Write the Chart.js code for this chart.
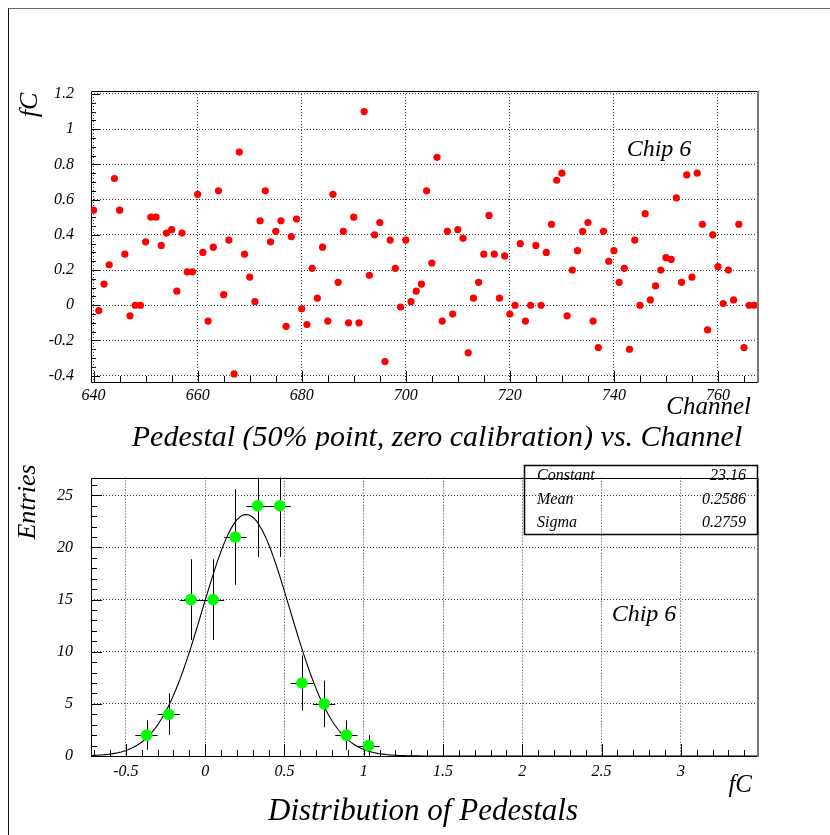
<!DOCTYPE html>
<html>
<head>
<meta charset="utf-8">
<title>Pedestals - Chip 6</title>
<script src="https://cdn.jsdelivr.net/npm/chart.js@4.4.1/dist/chart.umd.min.js"></script>
<style>
  html, body { margin: 0; padding: 0; background: #fff; }
  #page { position: relative; width: 830px; height: 835px; overflow: hidden; }
  #frame { position: absolute; left: 8px; top: 8px; width: 840px; height: 840px;
           border-left: 1px solid #111; border-top: 1px solid #6a6a6a; }
  canvas { position: absolute; left: 0; }
  #top { top: 0; }
  #bottom { top: 450px; }
</style>
</head>
<body>
<div id="page">
  <div id="frame"></div>
  <canvas id="top" width="830" height="450"></canvas>
  <canvas id="bottom" width="830" height="385"></canvas>
</div>
<script>
// ---- pedestal per channel (fC), channels 640 .. 767 ----
const firstChannel = 640;
const pedestals = [
  0.54, -0.03, 0.12, 0.23, 0.72, 0.54, 0.29, -0.06, 0.00, 0.00,
  0.36, 0.50, 0.50, 0.34, 0.41, 0.43, 0.08, 0.41, 0.19, 0.19,
  0.63, 0.30, -0.09, 0.33, 0.65, 0.06, 0.37, -0.39, 0.87, 0.29,
  0.16, 0.02, 0.48, 0.65, 0.36, 0.42, 0.48, -0.12, 0.39, 0.49,
  -0.02, -0.11, 0.21, 0.04, 0.33, -0.09, 0.63, 0.13, 0.42, -0.10,
  0.50, -0.10, 1.10, 0.17, 0.40, 0.47, -0.32, 0.37, 0.21, -0.01,
  0.37, 0.02, 0.08, 0.12, 0.65, 0.24, 0.84, -0.09, 0.42, -0.05,
  0.43, 0.38, -0.27, 0.04, 0.13, 0.29, 0.51, 0.29, 0.04, 0.28,
  -0.05, 0.00, 0.35, -0.09, 0.00, 0.34, 0.00, 0.30, 0.46, 0.71,
  0.75, -0.06, 0.20, 0.31, 0.42, 0.47, -0.09, -0.24, 0.42, 0.25,
  0.31, 0.13, 0.21, -0.25, 0.37, 0.00, 0.52, 0.03, 0.11, 0.20,
  0.27, 0.26, 0.61, 0.13, 0.74, 0.16, 0.75, 0.46, -0.14, 0.40,
  0.22, 0.01, 0.20, 0.03, 0.46, -0.24, 0.00, 0.00
];
const channels = pedestals.map((_, i) => firstChannel + i);
const channelTicks = [640, 660, 680, 700, 720, 740, 760];
const pedestalTicks = [-0.4, -0.2, 0, 0.2, 0.4, 0.6, 0.8, 1, 1.2];

// ---- histogram of pedestals ----
const binCenters = [-0.37, -0.23, -0.09, 0.05, 0.19, 0.33, 0.47, 0.61, 0.75, 0.89, 1.03];
const binCounts  = [2, 4, 15, 15, 21, 24, 24, 7, 5, 2, 1];
const binErrors  = [1.41, 2.00, 3.87, 3.87, 4.58, 4.90, 4.90, 2.65, 2.24, 1.41, 1.00];
const binHalfWidth = 0.07;
const fcTicks = [-0.5, 0, 0.5, 1, 1.5, 2, 2.5, 3];
const entryTicks = [0, 5, 10, 15, 20, 25];

// ---- gaussian fit result ----
const fitConstant = 23.16;
const fitMean = 0.2586;
const fitSigma = 0.2759;

const serif = "'Liberation Serif', 'Times New Roman', serif";
const tickFont = { family: serif, size: 16, style: 'italic' };

const fixedTicks = values => scale => { scale.ticks = values.map(v => ({ value: v })); };
const fmtNum = v => String(Math.round(v * 10) / 10);

const gridOpts = { color: '#3c3c3c', lineWidth: 1, drawTicks: false };
const borderOpts = { display: false, dash: [1, 2] };

// Frame plus inward major/minor tick marks on the bottom and left axes
function makeFrame(cfg) {
  return {
    id: 'frameTicks',
    beforeDatasetsDraw(chart) {
      const { ctx, chartArea: a, scales: { x, y } } = chart;
      const isMajor = (v, step) => Math.abs(v / step - Math.round(v / step)) < 1e-6;
      ctx.save();
      ctx.strokeStyle = '#000';
      ctx.lineWidth = 1;
      ctx.beginPath();
      for (let i = 0; ; i++) {
        const v = cfg.xFrom + i * cfg.xMinor;
        if (v > cfg.xTo + 1e-9) break;
        const px = Math.round(x.getPixelForValue(v)) + 0.5;
        const len = isMajor(v, cfg.xMajor) ? cfg.xMajorLen : cfg.xMinorLen;
        ctx.moveTo(px, a.bottom);
        ctx.lineTo(px, a.bottom - len);
      }
      for (let i = 0; ; i++) {
        const v = cfg.yFrom + i * cfg.yMinor;
        if (v > cfg.yTo + 1e-9) break;
        const py = Math.round(y.getPixelForValue(v)) + 0.5;
        const len = isMajor(v, cfg.yMajor) ? cfg.yMajorLen : cfg.yMinorLen;
        ctx.moveTo(a.left, py);
        ctx.lineTo(a.left + len, py);
      }
      ctx.stroke();
      // frame
      ctx.beginPath();
      ctx.moveTo(Math.round(a.right) + 0.5, Math.round(a.top) + 0.5);
      ctx.lineTo(Math.round(a.left) + 0.5, Math.round(a.top) + 0.5);
      ctx.lineTo(Math.round(a.left) + 0.5, Math.round(a.bottom) + 0.5);
      ctx.lineTo(Math.round(a.right) + 0.5, Math.round(a.bottom) + 0.5);
      ctx.stroke();
      ctx.strokeStyle = '#7a7a7a';
      ctx.lineWidth = 2;
      ctx.beginPath();
      ctx.moveTo(Math.round(a.right) + 1, Math.round(a.top));
      ctx.lineTo(Math.round(a.right) + 1, Math.round(a.bottom) + 1);
      ctx.stroke();
      ctx.restore();
    }
  };
}

// Free text: titles, axis titles and annotations
function makeText(items, extra) {
  return {
    id: 'textLayer',
    afterDraw(chart) {
      const ctx = chart.ctx;
      if (extra) extra(ctx, chart);
      for (const t of items) {
        ctx.save();
        ctx.font = `italic ${t.size}px ${serif}`;
        ctx.fillStyle = '#000';
        ctx.textAlign = t.align || 'center';
        ctx.textBaseline = 'middle';
        ctx.translate(t.x, t.y);
        if (t.rotate) ctx.rotate(t.rotate);
        ctx.fillText(t.text, 0, 0);
        ctx.restore();
      }
    }
  };
}

// Poisson error bars and bin-width bars for the histogram points
const errorBars = {
  id: 'errorBars',
  beforeDatasetsDraw(chart) {
    const { ctx, chartArea: a, scales: { x, y } } = chart;
    ctx.save();
    ctx.beginPath();
    ctx.rect(a.left, a.top, a.right - a.left, a.bottom - a.top);
    ctx.clip();
    ctx.strokeStyle = '#000';
    ctx.lineWidth = 1;
    ctx.beginPath();
    binCenters.forEach((c, i) => {
      const px = Math.round(x.getPixelForValue(c)) + 0.5;
      const py = Math.round(y.getPixelForValue(binCounts[i])) + 0.5;
      ctx.moveTo(px, y.getPixelForValue(binCounts[i] - binErrors[i]));
      ctx.lineTo(px, y.getPixelForValue(binCounts[i] + binErrors[i]));
      ctx.moveTo(x.getPixelForValue(c - binHalfWidth), py);
      ctx.lineTo(x.getPixelForValue(c + binHalfWidth), py);
    });
    ctx.stroke();
    ctx.restore();
  }
};

// ---------------- pedestal vs channel ----------------
new Chart(document.getElementById('top'), {
  type: 'scatter',
  data: {
    datasets: [{
      data: channels.map((c, i) => ({ x: c, y: pedestals[i] })),
      backgroundColor: '#ff0000',
      borderWidth: 0,
      pointRadius: 3.6,
      pointHoverRadius: 3.6
    }]
  },
  options: {
    responsive: false,
    animation: false,
    events: [],
    layout: { padding: { left: 31, top: 91, right: 73, bottom: 48 } },
    plugins: { legend: { display: false }, tooltip: { enabled: false } },
    scales: {
      x: {
        type: 'linear', position: 'bottom', min: 639.5, max: 767.5,
        afterBuildTicks: fixedTicks(channelTicks),
        afterFit: s => { s.height = 20; },
        grid: gridOpts, border: borderOpts,
        ticks: { font: tickFont, color: '#000', padding: 4, maxRotation: 0, autoSkip: false, callback: v => String(v) }
      },
      y: {
        type: 'linear', position: 'left', min: -0.436, max: 1.217,
        afterBuildTicks: fixedTicks(pedestalTicks),
        afterFit: s => { s.width = 60; },
        grid: gridOpts, border: borderOpts,
        ticks: { font: tickFont, color: '#000', padding: 17, autoSkip: false, callback: fmtNum }
      }
    }
  },
  plugins: [
    makeFrame({ xFrom: 640, xTo: 765, xMinor: 5, xMajor: 20, xMajorLen: 11, xMinorLen: 6,
                yFrom: -0.4, yTo: 1.2, yMinor: 0.05, yMajor: 0.2, yMajorLen: 9, yMinorLen: 5 }),
    makeText([
      { text: 'fC', x: 30, y: 105, size: 26, rotate: -Math.PI / 2 },
      { text: 'Chip 6', x: 659, y: 150, size: 24 },
      { text: 'Channel', x: 751, y: 407, size: 25, align: 'right' },
      { text: 'Pedestal (50% point, zero calibration) vs. Channel', x: 437, y: 438, size: 30 }
    ])
  ]
});

// ---------------- distribution of pedestals ----------------
const fitCurve = [];
for (let i = 0; i <= 420; i++) {
  const v = -0.72 + i * 0.01;
  fitCurve.push({ x: v, y: fitConstant * Math.exp(-0.5 * Math.pow((v - fitMean) / fitSigma, 2)) });
}

function drawStats(ctx) {
  const box = { left: 524, top: 15, right: 757, bottom: 84 };
  ctx.save();
  ctx.strokeStyle = '#000';
  ctx.lineWidth = 1.5;
  ctx.strokeRect(box.left + 0.5, box.top + 0.5, box.right - box.left, box.bottom - box.top);
  ctx.font = `italic 16px ${serif}`;
  ctx.fillStyle = '#000';
  ctx.textBaseline = 'middle';
  const rows = [['Constant', '23.16'], ['Mean', '0.2586'], ['Sigma', '0.2759']];
  rows.forEach((r, i) => {
    const ty = 26 + i * 23.5;
    ctx.textAlign = 'left';
    ctx.fillText(r[0], 537, ty);
    ctx.textAlign = 'right';
    ctx.fillText(r[1], 746, ty);
  });
  ctx.restore();
}

new Chart(document.getElementById('bottom'), {
  type: 'scatter',
  data: {
    datasets: [
      {
        data: binCenters.map((c, i) => ({ x: c, y: binCounts[i] })),
        backgroundColor: '#00ff00',
        borderWidth: 0,
        pointRadius: 5.8,
        pointHoverRadius: 5.8
      },
      {
        data: fitCurve,
        showLine: true,
        borderColor: '#000',
        borderWidth: 1.1,
        pointRadius: 0,
        pointHoverRadius: 0,
        tension: 0
      }
    ]
  },
  options: {
    responsive: false,
    animation: false,
    events: [],
    layout: { padding: { left: 31, top: 15, right: 73, bottom: 59 } },
    plugins: { legend: { display: false }, tooltip: { enabled: false } },
    scales: {
      x: {
        type: 'linear', position: 'bottom', min: -0.72, max: 3.48,
        afterBuildTicks: fixedTicks(fcTicks),
        afterFit: s => { s.height = 20; },
        grid: gridOpts, border: borderOpts,
        ticks: { font: tickFont, color: '#000', padding: 6, maxRotation: 0, autoSkip: false, callback: fmtNum }
      },
      y: {
        type: 'linear', position: 'left', min: 0, max: 26.7,
        afterBuildTicks: fixedTicks(entryTicks),
        afterFit: s => { s.width = 60; },
        grid: gridOpts, border: borderOpts,
        ticks: { font: tickFont, color: '#000', padding: 18, autoSkip: false, callback: v => String(v) }
      }
    }
  },
  plugins: [
    makeFrame({ xFrom: -0.7, xTo: 3.4, xMinor: 0.1, xMajor: 0.5, xMajorLen: 12, xMinorLen: 6,
                yFrom: 0, yTo: 26, yMinor: 1, yMajor: 5, yMajorLen: 11, yMinorLen: 6 }),
    errorBars,
    makeText([
      { text: 'Entries', x: 28, y: 52, size: 26, rotate: -Math.PI / 2 },
      { text: 'Chip 6', x: 644, y: 165, size: 24 },
      { text: 'fC', x: 752, y: 335, size: 25, align: 'right' },
      { text: 'Distribution of Pedestals', x: 423, y: 362, size: 31 }
    ], drawStats)
  ]
});
</script>
</body>
</html>
